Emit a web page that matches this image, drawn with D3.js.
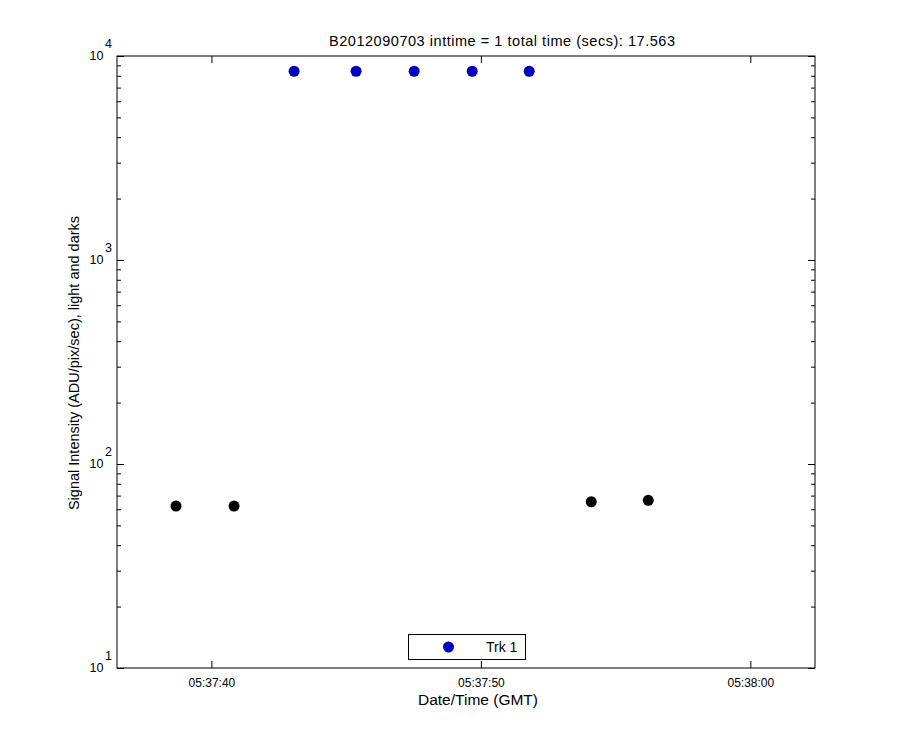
<!DOCTYPE html>
<html>
<head>
<meta charset="utf-8">
<script src="https://cdn.jsdelivr.net/npm/d3@7"></script>
<style>
  body { margin: 0; background: #fff; }
  svg { display: block; font-family: "Liberation Sans", Arial, sans-serif; }
</style>
</head>
<body>
<svg id="chart" width="900" height="750"></svg>
<script>
// ---- data ----
const titleText = "B2012090703 inttime = 1 total time (secs): 17.563";
const xLabel = "Date/Time (GMT)";
const yLabel = "Signal Intensity (ADU/pix/sec), light and darks";
const legendLabel = "Trk 1";

const lightTimes = ["05:37:43.067", "05:37:45.369", "05:37:47.523", "05:37:49.677", "05:37:51.793"];
const lightValues = [8420, 8420, 8420, 8420, 8420];
const darkTimes = ["05:37:38.685", "05:37:40.839", "05:37:54.096", "05:37:56.212"];
const darkValues = [62.2, 62.2, 65.3, 66.4];

const xDomain = ["05:37:36.495", "05:38:02.400"];
const xTicks = ["05:37:40", "05:37:50", "05:38:00"];
const yDomain = [10, 10000];
const yMajor = [10, 100, 1000, 10000];
const yExponents = [1, 2, 3, 4];

// ---- layout ----
const L = 117, R = 815, T = 56, B = 668;
const parse = d3.utcParse("%H:%M:%S.%L");
const parseS = d3.utcParse("%H:%M:%S");
const svg = d3.select("#chart");

const x = d3.scaleUtc().domain(xDomain.map(parse)).range([L, R]);
const y = d3.scaleLog().domain(yDomain).range([B, T]);

const yMinor = [];
for (let d = 0; d < yMajor.length - 1; d++) {
  for (let k = 2; k <= 9; k++) yMinor.push(yMajor[d] * k);
}
const xTickDates = xTicks.map(parseS);

// frame
svg.append("rect").attr("x", L).attr("y", T).attr("width", R - L).attr("height", B - T)
  .attr("fill", "#fff").attr("stroke", "#000").attr("stroke-width", 1);

function strip(g) { g.select(".domain").remove(); g.selectAll(".tick line").attr("stroke", "#000"); }

// bottom axis
svg.append("g").attr("transform", `translate(0,${B})`)
  .call(d3.axisBottom(x).tickValues(xTickDates).tickSizeInner(-7).tickSizeOuter(0)
    .tickPadding(10).tickFormat(d3.utcFormat("%H:%M:%S")))
  .call(strip)
  .call(g => g.selectAll("text").attr("font-size", 12).attr("fill", "#000")
    .attr("font-family", "Liberation Sans, Arial, sans-serif"));
// top axis
svg.append("g").attr("transform", `translate(0,${T})`)
  .call(d3.axisTop(x).tickValues(xTickDates).tickSizeInner(-7).tickSizeOuter(0).tickFormat(""))
  .call(strip);

// left axis major + minor
svg.append("g").attr("transform", `translate(${L},0)`)
  .call(d3.axisLeft(y).tickValues(yMajor).tickSizeInner(-7).tickSizeOuter(0).tickFormat(""))
  .call(strip);
svg.append("g").attr("transform", `translate(${L},0)`)
  .call(d3.axisLeft(y).tickValues(yMinor).tickSizeInner(-4).tickSizeOuter(0).tickFormat(""))
  .call(strip);
// right axis major + minor
svg.append("g").attr("transform", `translate(${R},0)`)
  .call(d3.axisRight(y).tickValues(yMajor).tickSizeInner(-7).tickSizeOuter(0).tickFormat(""))
  .call(strip);
svg.append("g").attr("transform", `translate(${R},0)`)
  .call(d3.axisRight(y).tickValues(yMinor).tickSizeInner(-4).tickSizeOuter(0).tickFormat(""))
  .call(strip);

// y tick labels 10^n
const yl = svg.append("g").attr("font-size", 12.5).attr("fill", "#000");
yMajor.forEach((v, i) => {
  yl.append("text").attr("x", 103.5).attr("y", y(v) + 3.8).attr("text-anchor", "end").text("10");
  yl.append("text").attr("x", 105).attr("y", y(v) - 8).attr("text-anchor", "start").text(yExponents[i]);
});

// points
svg.append("g").selectAll("circle").data(darkTimes.map((t, i) => [parse(t), darkValues[i]]))
  .join("circle").attr("cx", d => x(d[0])).attr("cy", d => y(d[1])).attr("r", 5.5).attr("fill", "#000");
svg.append("g").selectAll("circle").data(lightTimes.map((t, i) => [parse(t), lightValues[i]]))
  .join("circle").attr("cx", d => x(d[0])).attr("cy", d => y(d[1])).attr("r", 5.5).attr("fill", "#0000BF");

// title
svg.append("text").attr("x", 329).attr("y", 46).attr("font-size", 14.5)
  .attr("textLength", 346).attr("lengthAdjust", "spacing").attr("fill", "#000").text(titleText);

// x label
svg.append("text").attr("x", 478).attr("y", 705).attr("text-anchor", "middle")
  .attr("font-size", 15.5).attr("fill", "#000").text(xLabel);

// y label
svg.append("text").attr("transform", "translate(78.5,363) rotate(-90)").attr("text-anchor", "middle")
  .attr("font-size", 14.5).attr("fill", "#000").text(yLabel);

// legend
const lg = svg.append("g");
lg.append("rect").attr("x", 408.5).attr("y", 634.5).attr("width", 117).attr("height", 25)
  .attr("fill", "#fff").attr("stroke", "#000");
lg.append("circle").attr("cx", 448.5).attr("cy", 647).attr("r", 5.5).attr("fill", "#0000BF");
lg.append("text").attr("x", 486).attr("y", 652).attr("font-size", 14).attr("fill", "#000").text(legendLabel);
</script>
</body>
</html>
